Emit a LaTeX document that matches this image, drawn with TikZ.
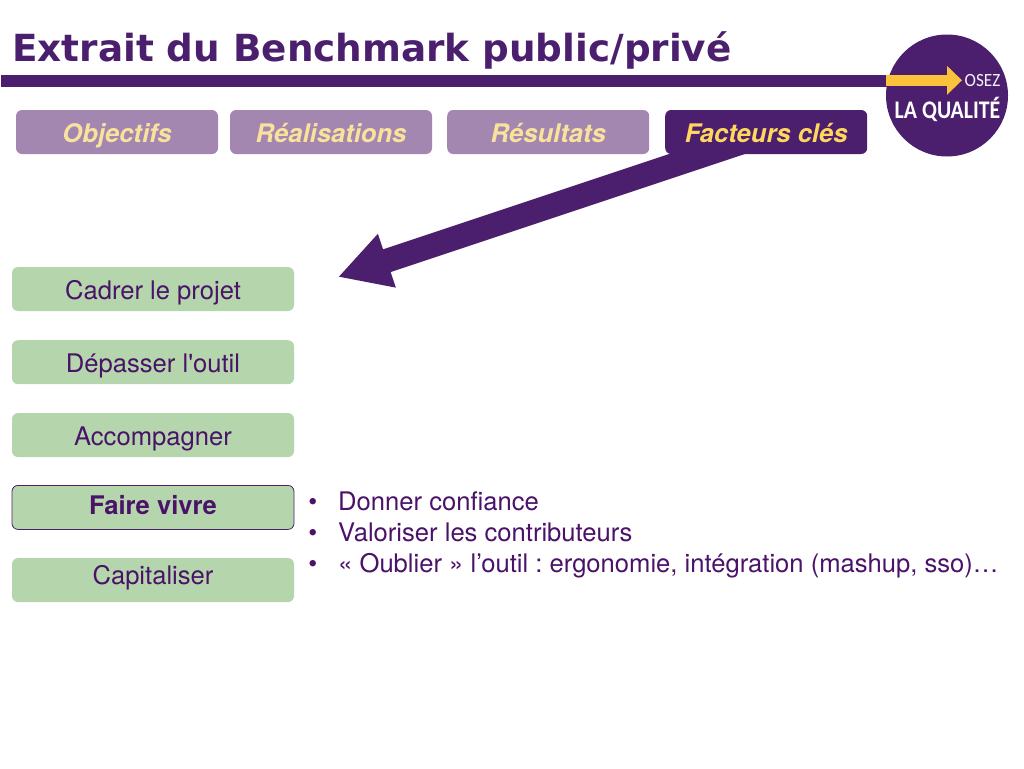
\documentclass[tikz,border=0pt]{standalone}
\usepackage{fontspec}
\setmainfont{TeX Gyre Heros}
\newfontfamily\titlefont{DejaVu Sans}
\newfontfamily\logofont{Carlito}
\usetikzlibrary{positioning}
\usetikzlibrary{arrows.meta}
\usetikzlibrary{backgrounds}
\definecolor{violet1}{HTML}{4B1F6E}
\definecolor{violet2}{HTML}{A387B1}
\definecolor{violet3}{HTML}{4A1268}
\definecolor{vert1}{HTML}{B5D6AC}
\definecolor{jaune1}{HTML}{F9E29B}
\definecolor{jaune2}{HTML}{FFD75E}
\definecolor{jaune3}{HTML}{FBC23C}
\tikzstyle{onglet} = [rectangle, rounded corners=4.5pt, minimum width=151.5pt, minimum height=33pt, inner sep=0pt, text height=17.5pt, text depth=2.5pt, text centered, fill=violet2, text=jaune1, font=\fontsize{19.2}{21}\selectfont\bfseries\itshape]
\tikzstyle{ongletactif} = [onglet, fill=violet1, text=jaune2]
\tikzstyle{etape} = [rectangle, rounded corners=4.5pt, minimum width=211.5pt, minimum height=33pt, inner sep=0pt, text height=17.5pt, text depth=2.5pt, text centered, fill=vert1, text=violet3, font=\fontsize{19.2}{21}\selectfont]
\tikzstyle{etapeactive} = [etape, draw=violet1, line width=0.6pt, text height=15pt, text depth=4.5pt, font=\fontsize{19.2}{21}\selectfont\bfseries]
\tikzstyle{grossefleche} = [draw=violet1, line width=18pt, -{Triangle[length=38.6pt, width=39.5pt]}]
\begin{document}
\begin{tikzpicture}[x=0.75pt, y=-0.75pt]
        \useasboundingbox (0,0) rectangle (1024,768);
        \node (titre) [anchor=base west, text=violet1, inner sep=0pt, font=\titlefont\fontsize{28}{30}\selectfont\bfseries] at (12,61) {Extrait du Benchmark public/priv\'e};

        \node (objectifs) [onglet] at (117,132) {Objectifs};
        \node (realisations) [onglet, right=8.6pt of objectifs] {R\'ealisations};
        \node (resultats) [onglet, right=11pt of realisations] {R\'esultats};
        \node (facteurs) [ongletactif, right=11.6pt of resultats] {Facteurs cl\'es};

        \node (cadrer) [etape] at (153,289) {Cadrer le projet};
        \node (depasser) [etape, below=21.5pt of cadrer] {D\'epasser l\textquotesingle outil};
        \node (accompagner) [etape, below=21.25pt of depasser] {Accompagner};
        \node (vivre) [etapeactive, below=20.75pt of accompagner] {Faire vivre};
        \node (capitaliser) [etape, below=21pt of vivre, text height=14pt, text depth=8pt] {Capitaliser};

        \node (points) [anchor=north west, inner sep=0pt, text=violet3, align=left, font=\fontsize{19.2}{23.25}\selectfont\frenchspacing] at (308,491.5) {\makebox[22.5pt][l]{\textbullet}Donner confiance\\ \makebox[22.5pt][l]{\textbullet}Valoriser les contributeurs\\ \makebox[22.5pt][l]{\textbullet}\guillemotleft{} Oublier \guillemotright{} l'outil : ergonomie, int\'egration (mashup, sso)\dots};

        % bandeau et logo
        \node (logo) [circle, fill=violet1, minimum size=91.5pt, inner sep=0pt] at (947,95.5) {};
        \node (osez) [text=white!90!violet2, inner sep=0pt, font=\logofont\fontsize{14}{15}\selectfont] at (982.5,81) {\scalebox{0.92}[1]{OSEZ}};
        \node (qualite) [text=white, inner sep=0pt, font=\logofont\fontsize{19}{20}\selectfont\bfseries] at (947.5,109) {\scalebox{0.86}[1]{LA QUALIT\'E}};
        \coordinate (bandeau) at (1,81);
        \coordinate (pointe) at (962,80.3);
        \coordinate (depart) at (758,137);
        \coordinate (cible) at (338,277);
        \begin{pgfonlayer}{background}
            \draw [violet1, line width=9pt] (bandeau) -- (logo.center |- bandeau);
            \draw [grossefleche] (depart) -- (cible);
        \end{pgfonlayer}
        \draw [draw=jaune3, line width=8.5pt, -{Triangle[length=11.25pt, width=21pt]}] (logo.west |- pointe) -- (pointe);
    \end{tikzpicture}
\end{document}
